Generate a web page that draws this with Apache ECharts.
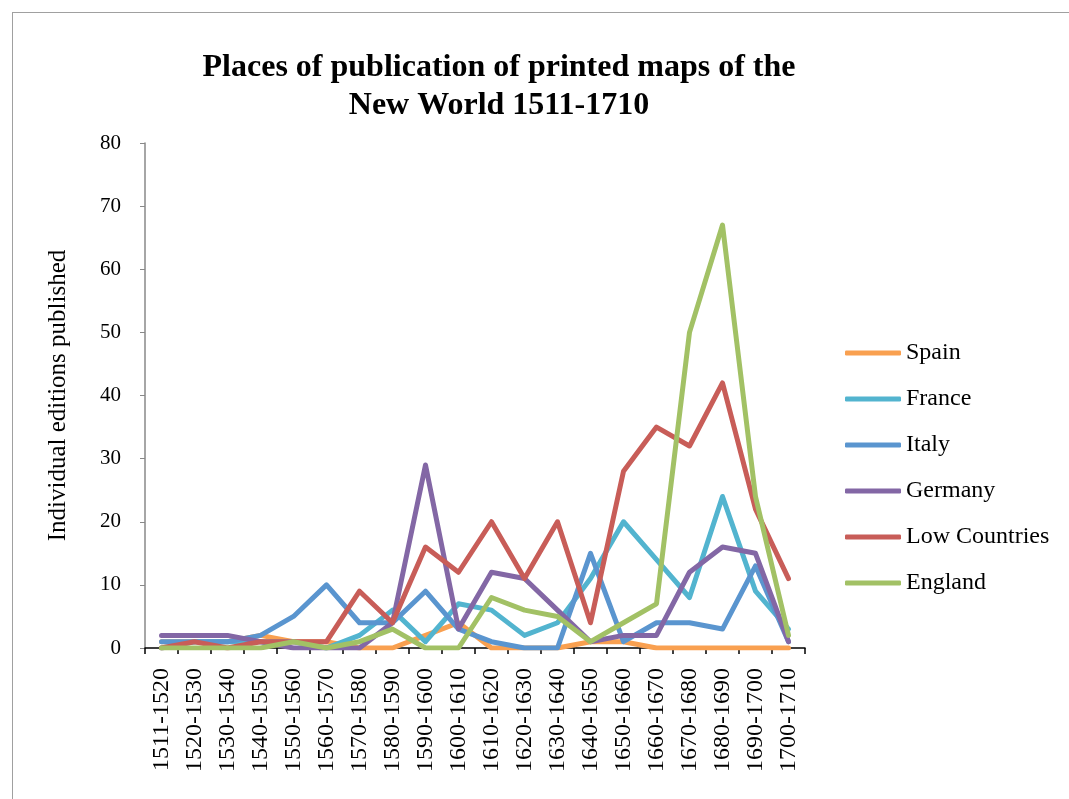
<!DOCTYPE html>
<html><head><meta charset="utf-8">
<script src="https://cdn.jsdelivr.net/npm/echarts@6/dist/echarts.min.js"></script>
<style>
html,body{margin:0;padding:0;background:#fff;}
#frame{position:absolute;left:12px;top:12px;width:1100px;height:850px;border:1.5px solid #a0a0a0;box-sizing:border-box;}
#c{position:absolute;left:0;top:0;width:1069px;height:799px;}
</style></head>
<body>
<div id="frame"></div>
<div id="c"></div>
<script>
var categories = ['1511-1520','1520-1530','1530-1540','1540-1550','1550-1560','1560-1570','1570-1580','1580-1590','1590-1600','1600-1610','1610-1620','1620-1630','1630-1640','1640-1650','1650-1660','1660-1670','1670-1680','1680-1690','1690-1700','1700-1710'];
var spain        = [1,1,1,2,1,1,0,0,2,4,0,0,0,1,1,0,0,0,0,0];
var france       = [0,1,1,1,1,0,2,6,1,7,6,2,4,11,20,14,8,24,9,3];
var italy        = [1,1,1,2,5,10,4,4,9,3,1,0,0,15,1,4,4,3,13,1];
var germany      = [2,2,2,1,0,0,0,4,29,3,12,11,6,1,2,2,12,16,15,1];
var lowCountries = [0,1,0,1,1,1,9,4,16,12,20,11,20,4,28,35,32,42,22,11];
var england      = [0,0,0,0,1,0,1,3,0,0,8,6,5,1,4,7,50,67,24,2];
var yTicks = [0,10,20,30,40,50,60,70,80];

var serif = '"Liberation Serif","DejaVu Serif",serif';
var names = ['Spain','France','Italy','Germany','Low Countries','England'];
var colors = ['#F9A050','#52B4CF','#5A95CF','#8367A5','#C85D58','#A2C165'];
var datas = [spain, france, italy, germany, lowCountries, england];

var chart = echarts.init(document.getElementById('c'));
chart.setOption({
  animation:false,
  backgroundColor:'transparent',
  title:{
    text:'Places of publication of printed maps of the\nNew World 1511-1710',
    left:494, top:44, textAlign:'center',
    textStyle:{fontFamily:serif,fontWeight:'bold',fontSize:32,lineHeight:38,color:'#000'}
  },
  legend:{
    orient:'vertical', left:840, top:334,
    icon:'roundRect', itemWidth:56, itemHeight:5, itemGap:18,
    textStyle:{fontFamily:serif,fontSize:24,color:'#000',lineHeight:28},
    data:names
  },
  grid:{left:145,right:264,top:143,bottom:151},
  xAxis:{
    type:'category', data:categories, boundaryGap:true,
    axisLine:{lineStyle:{color:'#000',width:1.5}},
    axisTick:{show:true,length:6,interval:0,lineStyle:{color:'#000',width:1.5}},
    axisLabel:{rotate:90,interval:0,margin:20,fontFamily:serif,fontSize:24,color:'#000'}
  },
  yAxis:{
    type:'value', min:0, max:80, interval:10,
    name:'Individual editions published', nameLocation:'middle', nameGap:74,
    nameTextStyle:{fontFamily:serif,fontSize:25,color:'#000'},
    axisLine:{show:true,lineStyle:{color:'#888',width:1.5}},
    axisTick:{show:true,length:5,lineStyle:{color:'#888'}},
    axisLabel:{margin:24,fontFamily:serif,fontSize:21,color:'#000',
      formatter:function(v){return yTicks.indexOf(v)>=0?String(v):'';}},
    splitLine:{show:false}
  },
  series: names.map(function(n,i){
    return {name:n,type:'line',data:datas[i],symbol:'none',
      lineStyle:{color:colors[i],width:5,cap:'round',join:'round'},
      itemStyle:{color:colors[i]}};
  })
});
</script>
</body></html>
